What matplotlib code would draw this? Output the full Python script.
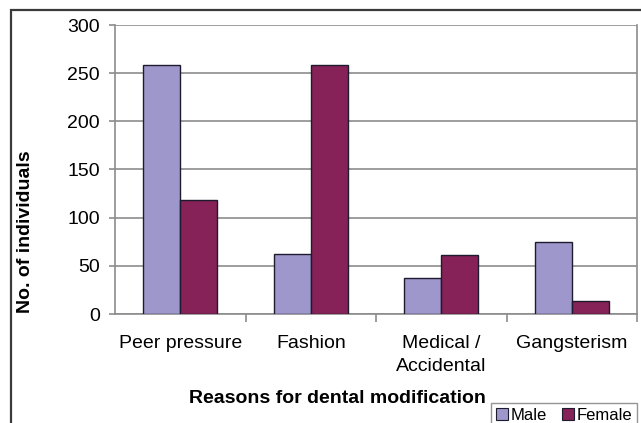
import numpy as np
import matplotlib.pyplot as plt
from matplotlib.patches import Rectangle, Patch

plt.rcParams['font.family'] = ['Liberation Sans', 'DejaVu Sans']

reasons = ['Peer pressure', 'Fashion', 'Medical /\nAccidental', 'Gangsterism']
male = [258, 62, 37, 75]
female = [118, 258, 61, 14]
series_names = ['Male', 'Female']

male_color = '#9d97cb'
female_color = '#862257'
edge_color = '#1e1b2e'
grid_color = '#8c8c8c'

fig = plt.figure(figsize=(6.41, 4.23), dpi=100)
fig.patch.set_facecolor('white')

# outer chart frame, running off the right and bottom edges
fig.patches.append(Rectangle((11 / 641, -0.1), 1.2, (423 - 10.5) / 423 + 0.1,
                             transform=fig.transFigure, fill=False,
                             edgecolor='#3a3a3a', linewidth=1.6))

ax = fig.add_axes([115 / 641, 109 / 423, 522 / 641, 289 / 423])

x = np.arange(len(reasons))
w = 0.285
ax.bar(x - w / 2, male, w, color=male_color, edgecolor=edge_color, linewidth=1.0, zorder=3)
ax.bar(x + w / 2, female, w, color=female_color, edgecolor=edge_color, linewidth=1.0, zorder=3)

ax.set_xlim(-0.5, len(reasons) - 0.5)
ax.set_ylim(0, 300)
ax.set_yticks(np.arange(0, 301, 50))
ax.yaxis.grid(True, color=grid_color, linewidth=1.2, zorder=0)
ax.set_axisbelow(True)

ax.set_xticks(x)
ax.set_xticklabels(reasons, fontsize=14, linespacing=1.45)
ax.tick_params(axis='x', length=0, pad=15)
ax.set_xticks(np.append(x[:-1] + 0.5, len(reasons) - 0.5), minor=True)
ax.tick_params(axis='x', which='minor', length=6, color=grid_color, width=1.2)
ax.tick_params(axis='y', length=4, color=grid_color, width=1.2, labelsize=14, pad=7)

ax.spines['top'].set_visible(False)
for side in ['left', 'bottom', 'right']:
    ax.spines[side].set_color(grid_color)
    ax.spines[side].set_linewidth(1.2)

fig.text(26 / 641, 1 - 232 / 423, 'No. of individuals', rotation=90, ha='center', va='center',
         fontsize=14, fontweight='bold')
fig.text(337 / 641, 1 - 398 / 423, 'Reasons for dental modification', ha='center', va='center',
         fontsize=14, fontweight='bold')

handles = [Patch(facecolor=male_color, edgecolor=edge_color, linewidth=0.8),
           Patch(facecolor=female_color, edgecolor=edge_color, linewidth=0.8)]
leg = fig.legend(handles, series_names, loc='upper left', bbox_to_anchor=(491 / 641, 1 - 403 / 423),
                 ncol=2, fontsize=12, frameon=True, fancybox=False, borderpad=0.3,
                 handlelength=0.72, handleheight=0.72, handletextpad=0.15, columnspacing=0.9,
                 borderaxespad=0)
leg.get_frame().set_edgecolor('#7a7a7a')
leg.get_frame().set_linewidth(1.0)

fig.savefig('out.png', dpi=100)
